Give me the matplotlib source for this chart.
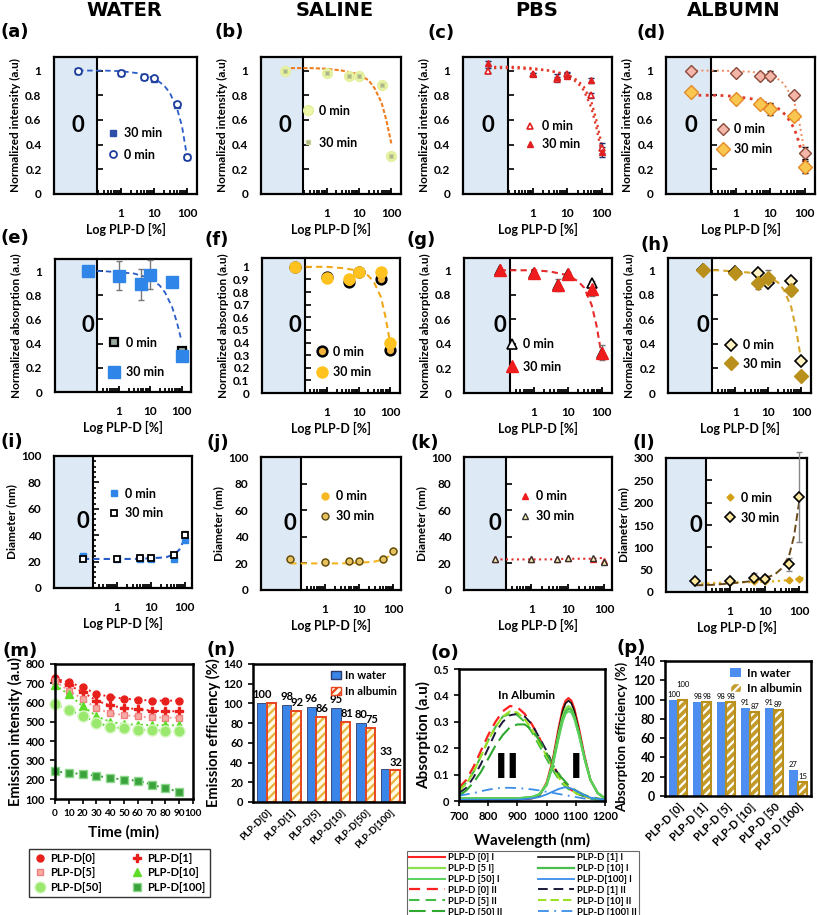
import numpy as np
import matplotlib
matplotlib.use('Agg')
import matplotlib.pyplot as plt
from matplotlib.lines import Line2D
from matplotlib.patches import Patch
from matplotlib.ticker import FixedLocator

plt.rcParams['font.family'] = ['Lato', 'DejaVu Sans']
plt.rcParams['font.weight'] = 'bold'
plt.rcParams['axes.labelweight'] = 'bold'
plt.rcParams['hatch.linewidth'] = 1.6

# ---------------- data ----------------
conc = [0, 1, 5, 10, 50, 100]
fit_c = [0, 0.3, 1, 3, 10, 20, 30, 50, 70, 100]
fit_c_ext = [0, 0.3, 1, 3, 10, 20, 30, 50, 100, 170]
minor_c = [0.2, 0.3, 0.4, 0.5, 0.6, 0.7, 0.8, 0.9, 2, 3, 4, 5, 6, 7, 8, 9,
           20, 30, 40, 50, 60, 70, 80, 90]

# (a) water, intensity
a_0 = [1.00, 0.98, 0.95, 0.94, 0.73, 0.30]
a_30 = [1.00, 0.98, 0.95, 0.93, 0.72, 0.30]
a_fit = [1.00, 1.00, 0.995, 0.98, 0.94, 0.88, 0.82, 0.69, 0.55, 0.30]
# (b) saline, intensity
b_0 = [1.00, 0.98, 0.96, 0.96, 0.88, 0.31]
b_30 = [1.00, 0.98, 0.96, 0.96, 0.88, 0.31]
b_fit = [1.02, 1.02, 1.015, 1.00, 0.97, 0.92, 0.86, 0.74, 0.60, 0.41]
# (c) PBS, intensity
c_0 = [1.00, 0.97, 0.93, 0.97, 0.80, 0.37]
c_30 = [1.06, 0.97, 0.95, 0.96, 0.92, 0.34]
c_err = [0.02, 0.01, 0.02, 0.02, 0.02, 0.04]
c_fit0 = [1.02, 1.02, 1.01, 1.00, 0.97, 0.92, 0.87, 0.75, 0.60, 0.40]
c_fit30 = [1.03, 1.03, 1.02, 1.00, 0.96, 0.90, 0.84, 0.70, 0.54, 0.33]
# (d) albumin, intensity
d_0 = [1.00, 0.98, 0.96, 0.96, 0.80, 0.33]
d_30 = [0.83, 0.77, 0.73, 0.69, 0.63, 0.22]
d_err0 = [0, 0.01, 0.02, 0.04, 0.01, 0.05]
d_err30 = [0, 0.02, 0.03, 0.05, 0.02, 0.05]
d_fit0 = [1.00, 1.00, 0.995, 0.99, 0.96, 0.92, 0.86, 0.74, 0.58, 0.33]
d_fit30 = [0.80, 0.80, 0.79, 0.77, 0.73, 0.68, 0.63, 0.53, 0.41, 0.24]
# (e) water, absorption
e_0 = [1.00, 0.96, 0.89, 0.97, 0.91, 0.34]
e_30 = [1.00, 0.96, 0.89, 0.97, 0.91, 0.30]
e_err = [0, 0.12, 0.13, 0.12, 0, 0]
e_fit = [1.00, 1.00, 0.99, 0.98, 0.94, 0.88, 0.82, 0.70, 0.58, 0.42]
# (f) saline, absorption
f_0 = [1.00, 0.92, 0.88, 0.96, 0.90, 0.34]
f_30 = [1.00, 0.91, 0.90, 0.96, 0.96, 0.40]
f_err = [0, 0.03, 0.03, 0.03, 0.02, 0.02]
f_fit = [1.00, 1.00, 1.00, 0.99, 0.97, 0.93, 0.88, 0.76, 0.60, 0.38]
# (g) PBS, absorption
g_0 = [1.00, 0.98, 0.88, 0.97, 0.90, 0.33]
g_30 = [1.00, 0.98, 0.88, 0.97, 0.85, 0.33]
g_err = [0, 0.01, 0.05, 0.02, 0.06, 0.06]
g_fit = [1.00, 1.00, 1.00, 0.99, 0.96, 0.91, 0.86, 0.72, 0.55, 0.30]
# (h) albumin, absorption
h_0 = [1.00, 0.99, 0.98, 0.90, 0.91, 0.26]
h_30 = [1.00, 0.98, 0.90, 0.94, 0.84, 0.14]
h_err = [0, 0.01, 0.05, 0.06, 0.04, 0.01]
h_fit = [1.00, 1.00, 0.99, 0.98, 0.95, 0.90, 0.84, 0.70, 0.52, 0.27]
# (i) water, diameter
i_0 = [24, 22, 22, 22, 22, 36]
i_30 = [22, 22, 23, 23, 25, 40]
i_err = [1, 1, 1, 1, 2, 3]
i_fit = [22, 22, 22, 22, 22.5, 23, 23.5, 25.5, 29, 37]
# (j) saline, diameter
j_0 = [23, 21, 22, 22, 23, 29]
j_30 = [23, 21, 22, 22, 23, 29]
j_fit = [20, 20, 20, 20, 20.5, 21, 21.5, 23, 25, 29]
# (k) PBS, diameter
k_0 = [23, 23, 23, 24, 23, 22]
k_30 = [23, 23, 23, 24, 24, 21]
k_fit = [23, 23, 23, 23, 23.5, 23.5, 23.5, 23.5, 24, 24]
# (l) albumin, diameter
l_0 = [24, 22, 24, 24, 26, 28]
l_30 = [24, 25, 32, 30, 62, 213]
l_err = [0, 5, 10, 8, 15, 100]
l_fit0 = [18, 20, 21, 22, 23, 24, 25, 27, 30, 34]
l_fit30 = [15, 16, 19, 23, 30, 40, 52, 80, 125, 205]

# (m) emission vs time
time_min = [0, 10, 20, 30, 40, 50, 60, 70, 80, 90]
m_series = {
    'PLP-D[0]': [725, 705, 680, 645, 630, 620, 615, 610, 610, 610],
    'PLP-D[1]': [718, 690, 655, 610, 585, 572, 566, 558, 555, 555],
    'PLP-D[5]': [710, 662, 620, 570, 545, 535, 528, 524, 522, 522],
    'PLP-D[10]': [692, 642, 582, 530, 500, 488, 485, 483, 482, 482],
    'PLP-D[50]': [590, 562, 532, 496, 475, 466, 460, 457, 455, 455],
    'PLP-D[100]': [243, 235, 230, 220, 210, 200, 195, 175, 155, 138],
}

# (n) emission efficiency
n_cats = ['PLP-D[0]', 'PLP-D[1]', 'PLP-D[5]', 'PLP-D[10]', 'PLP-D[50]', 'PLP-D[100]']
n_water = [100, 98, 96, 95, 80, 33]
n_album = [100, 92, 86, 81, 75, 32]

# (o) absorption spectra in albumin
wl_I = [700, 800, 900, 950, 975, 1000, 1020, 1040, 1055, 1065, 1075, 1085,
        1095, 1110, 1130, 1150, 1175, 1200]
o_I = {
    'PLP-D [0] I': [0.005, 0.005, 0.005, 0.01, 0.02, 0.07, 0.15, 0.27, 0.35, 0.38, 0.39, 0.38, 0.35, 0.28, 0.17, 0.08, 0.03, 0.01],
    'PLP-D [1] I': [0.005, 0.005, 0.005, 0.01, 0.02, 0.065, 0.145, 0.26, 0.34, 0.37, 0.38, 0.37, 0.34, 0.27, 0.165, 0.08, 0.03, 0.01],
    'PLP-D [5 I]': [0.01, 0.01, 0.01, 0.015, 0.025, 0.065, 0.14, 0.25, 0.32, 0.35, 0.36, 0.35, 0.32, 0.26, 0.16, 0.08, 0.03, 0.01],
    'PLP-D [10] I': [0.01, 0.01, 0.01, 0.015, 0.025, 0.06, 0.13, 0.24, 0.31, 0.34, 0.35, 0.345, 0.32, 0.26, 0.16, 0.08, 0.03, 0.01],
    'PLP-D [50] I': [0.01, 0.01, 0.01, 0.015, 0.025, 0.06, 0.13, 0.23, 0.30, 0.33, 0.34, 0.335, 0.31, 0.25, 0.16, 0.08, 0.03, 0.01],
    'PLP-D[100] I': [0.005, 0.005, 0.005, 0.01, 0.015, 0.025, 0.035, 0.045, 0.05, 0.052, 0.05, 0.047, 0.042, 0.033, 0.022, 0.013, 0.008, 0.005],
}
wl_II = [700, 725, 750, 775, 800, 825, 850, 875, 900, 925, 950, 975, 1000,
         1025, 1050, 1075, 1100, 1125, 1150, 1175, 1200]
o_II = {
    'PLP-D [0] II': [0.05, 0.08, 0.13, 0.19, 0.25, 0.30, 0.34, 0.36, 0.355, 0.33, 0.29, 0.24, 0.18, 0.13, 0.08, 0.05, 0.03, 0.02, 0.01, 0.005, 0.0],
    'PLP-D [1] II': [0.03, 0.05, 0.09, 0.14, 0.20, 0.26, 0.30, 0.325, 0.33, 0.32, 0.29, 0.24, 0.19, 0.13, 0.08, 0.05, 0.03, 0.02, 0.01, 0.005, 0.0],
    'PLP-D [5] II': [0.04, 0.07, 0.11, 0.17, 0.23, 0.28, 0.32, 0.33, 0.325, 0.30, 0.26, 0.21, 0.16, 0.11, 0.07, 0.045, 0.03, 0.02, 0.01, 0.005, 0.0],
    'PLP-D [10] II': [0.04, 0.065, 0.11, 0.17, 0.23, 0.28, 0.32, 0.34, 0.335, 0.31, 0.27, 0.22, 0.17, 0.12, 0.075, 0.05, 0.03, 0.02, 0.01, 0.005, 0.0],
    'PLP-D [50] II': [0.02, 0.04, 0.07, 0.11, 0.16, 0.21, 0.25, 0.28, 0.29, 0.29, 0.27, 0.23, 0.18, 0.13, 0.09, 0.06, 0.04, 0.025, 0.015, 0.01, 0.005],
    'PLP-D [100] II': [0.02, 0.025, 0.03, 0.037, 0.043, 0.047, 0.05, 0.05, 0.049, 0.047, 0.044, 0.04, 0.035, 0.03, 0.025, 0.02, 0.015, 0.01, 0.007, 0.005, 0.003],
}

# (p) absorption efficiency
p_cats = ['PLP-D [0]', 'PLP-D [1]', 'PLP-D [5]', 'PLP-D [10]', 'PLP-D [50', 'PLP-D [100]']
p_water = [100, 98, 98, 91, 91, 27]
p_album = [100, 98, 98, 87, 89, 15]

# ---------------- figure ----------------
W, H = 817, 915
fig = plt.figure(figsize=(W / 100, H / 100), dpi=100)


def box(l, t, r, b):
    return fig.add_axes([l / W, 1 - b / H, (r - l) / W, (b - t) / H])


def xpos(cs, zero):
    return [zero if c == 0 else np.log10(c) for c in cs]


def conc_panel(rect, lims, ylim, yticks, ylabel, yminor=None, fmt=None):
    left, div, right, zero = lims
    ax = box(*rect)
    ax.set_xlim(left, right)
    ax.set_ylim(*ylim)
    ax.axvspan(left, div, facecolor='#dde9f5', edgecolor='none', zorder=0)
    ax.text(zero, 0.5, '0', transform=ax.get_xaxis_transform(), ha='center',
            va='center', fontsize=16, fontweight='bold')
    sec = ax.secondary_yaxis((div - left) / (right - left))
    sec.set_yticks(yticks)
    if yminor is not None:
        sec.set_yticks(yminor, minor=True)
    sec.tick_params(which='both', direction='in', labelleft=False,
                    labelright=False, width=1.2, length=4)
    sec.tick_params(which='minor', length=2.5)
    for s in sec.spines.values():
        s.set_linewidth(1.5)
    ax.set_yticks(yticks)
    if fmt:
        ax.set_yticklabels([fmt(v) for v in yticks])
    ax.tick_params(axis='y', length=0, pad=9, labelsize=8.5)
    ax.set_xticks([0, 1, 2], ['1', '10', '100'])
    ax.xaxis.set_minor_locator(FixedLocator(np.log10(minor_c)))
    ax.tick_params(axis='x', which='both', direction='in', pad=10,
                   labelsize=8.5, width=1.3)
    ax.tick_params(axis='x', which='major', length=4)
    ax.tick_params(axis='x', which='minor', length=3)
    for s in ax.spines.values():
        s.set_linewidth(1.6)
    ax.set_ylabel(ylabel, fontsize=8.5, labelpad=3)
    ax.set_xlabel('Log PLP-D [%]', fontsize=9, labelpad=3)
    return ax


def fit(ax, zero, ys, color, ls, cs=fit_c, lw=1.3):
    ax.plot(xpos(cs, zero), ys, ls=ls, color=color, lw=lw, zorder=2)


def pts(ax, zero, ys, label, err=None, ecolor='#555555', **kw):
    x = xpos(conc, zero)
    if err is not None:
        ax.errorbar(x, ys, yerr=err, fmt='none', ecolor=ecolor, elinewidth=1,
                    capsize=2, zorder=3, clip_on=False)
    return ax.plot(x, ys, ls='none', label=label, zorder=4, clip_on=False, **kw)[0]


def leg(ax, x, y, spacing, handles=None):
    kw = dict(loc='center left', bbox_to_anchor=(x, y), frameon=False,
              fontsize=9, handlelength=1.0, handletextpad=0.4,
              labelspacing=spacing, borderpad=0, borderaxespad=0)
    if handles is not None:
        ax.legend(handles=handles, **kw)
    else:
        ax.legend(**kw)


r1 = (-2.03, -0.72, 2.3, -1.3)
r2 = (-2.05, -0.70, 2.3, -1.0)
r3 = (-1.85, -0.70, 2.22, -1.0)
int_lab = 'Normalized intensity (a.u)'
abs_lab = 'Normalized absorption (a.u)'
dia_lab = 'Diameter (nm)'
y1 = [0, 0.2, 0.4, 0.6, 0.8, 1.0]
fmt1 = lambda v: '0' if v == 0 else ('1' if v == 1 else f'{v:.1f}')
y100 = [0, 20, 40, 60, 80, 100]

# (a)
ax = conc_panel((54, 57, 197, 194), r1, (0, 1.11), y1, int_lab, fmt=fmt1)
fit(ax, r1[3], a_fit, '#2a5cc8', (0, (3, 2)))
h30 = pts(ax, r1[3], a_30, '30 min', marker='s', ms=4.5, mfc='#2e4fa8', mec='#2e4fa8')
h0 = pts(ax, r1[3], a_0, '0 min', marker='o', ms=5, mfc='white', mec='#1f3f9e', mew=1.3)
leg(ax, 0.37, 0.365, 0.75, [h30, h0])

# (b)
ax = conc_panel((261, 57, 401, 194), r1, (0, 1.11), y1, int_lab, fmt=fmt1)
fit(ax, r1[3], b_fit, '#ef7d22', (0, (2, 1)), lw=1.5)
pts(ax, r1[3], b_0, '0 min', marker='o', ms=7, mfc='#eef6a8', mec='#e3ee9a')
pts(ax, r1[3], b_30, '30 min', marker='s', ms=3.5, mfc='#a3ae8c', mec='#c7d48f')
leg(ax, 0.29, 0.49, 1.6)

# (c)
ax = conc_panel((463, 57, 612, 194), r1, (0, 1.11), y1, int_lab, fmt=fmt1)
fit(ax, r1[3], c_fit0, '#e23a2a', ':', lw=1.6)
fit(ax, r1[3], c_fit30, '#e23a2a', ':', lw=1.6)
pts(ax, r1[3], c_0, '0 min', err=c_err, ecolor='#1d2f6f', marker='^', ms=5,
    mfc='white', mec='#e02020', mew=1.2)
pts(ax, r1[3], c_30, '30 min', err=c_err, ecolor='#1d2f6f', marker='^', ms=5,
    mfc='#e02020', mec='#e02020')
leg(ax, 0.41, 0.43, 0.5)

# (d)
ax = conc_panel((666, 57, 815, 194), r1, (0, 1.11), y1, int_lab, fmt=fmt1)
fit(ax, r1[3], d_fit0, '#f08a5d', ':', lw=1.4)
fit(ax, r1[3], d_fit30, '#e03a2a', ':', lw=2.0)
pts(ax, r1[3], d_0, '0 min', err=d_err0, ecolor='black', marker='D', ms=6,
    mfc='#f4b6a8', mec='#8b4a3a')
pts(ax, r1[3], d_30, '30 min', err=d_err30, ecolor='black', marker='D', ms=7,
    mfc='#f9c74f', mec='#e58a2a')
leg(ax, 0.34, 0.40, 0.6)

# (e)
ax = conc_panel((55, 259, 191, 392), r2, (0, 1.1), y1, abs_lab, fmt=fmt1)
fit(ax, r2[3], e_fit, '#2a5cc8', (0, (3, 2)))
pts(ax, r2[3], e_0, '0 min', marker='s', ms=6, mfc='#9aa9a0', mec='black', mew=1.6)
pts(ax, r2[3], e_30, '30 min', err=e_err, ecolor='#777777', marker='s', ms=8,
    mfc='#2f86e8', mec='#2f86e8')
leg(ax, 0.39, 0.26, 1.4)

# (f)
yf = [0, 0.1, 0.2, 0.3, 0.4, 0.5, 0.6, 0.7, 0.8, 0.9, 1.0]
ax = conc_panel((262, 258, 400, 393), r2, (0, 1.07), yf, abs_lab, fmt=fmt1)
fit(ax, r2[3], f_fit, '#f0a818', (0, (3, 2)), lw=1.5)
pts(ax, r2[3], f_0, '0 min', marker='o', ms=7, mfc='#f0b23a', mec='black', mew=1.8)
pts(ax, r2[3], f_30, '30 min', err=f_err, ecolor='#777777', marker='o', ms=8,
    mfc='#ffc21f', mec='#ffc21f')
leg(ax, 0.39, 0.23, 0.7)

# (g)
ax = conc_panel((464, 258, 612, 393), r2, (0, 1.1), y1, abs_lab, fmt=fmt1)
fit(ax, r2[3], g_fit, '#e52b2b', (0, (3, 2)), lw=1.5)
pts(ax, r2[3], g_0, '0 min', marker='^', ms=7, mfc='white', mec='black', mew=1.2)
pts(ax, r2[3], g_30, '30 min', err=g_err, ecolor='#777777', marker='^', ms=8,
    mfc='#ee1c1c', mec='#ee1c1c')
leg(ax, 0.28, 0.28, 0.85)

# (h)
ax = conc_panel((668, 258, 811, 393), r2, (0, 1.1), y1, abs_lab, fmt=fmt1)
fit(ax, r2[3], h_fit, '#d4a52a', (0, (3, 2)), lw=1.5)
pts(ax, r2[3], h_0, '0 min', marker='D', ms=6, mfc='#fff3c4', mec='black', mew=1.2)
pts(ax, r2[3], h_30, '30 min', err=h_err, ecolor='#777777', marker='D', ms=7,
    mfc='#b8901b', mec='#b8901b')
leg(ax, 0.40, 0.285, 0.5)

# (i)
ax = conc_panel((54, 456, 192, 588), r3, (0, 100), y100, dia_lab,
                yminor=list(range(0, 101, 4)))
fit(ax, r3[3], i_fit, '#2a5cc8', (0, (3, 2)), lw=1.5)
pts(ax, r3[3], i_0, '0 min', marker='s', ms=5, mfc='#2f86e8', mec='#2f86e8')
pts(ax, r3[3], i_30, '30 min', err=i_err, ecolor='#777777', marker='s', ms=5,
    mfc='white', mec='black', mew=1.3)
leg(ax, 0.39, 0.64, 0.6)

# (j)
ax = conc_panel((261, 457, 401, 590), r3, (0, 100), y100, dia_lab)
fit(ax, r3[3], j_fit, '#f3b41f', (0, (3, 2)), lw=1.5)
pts(ax, r3[3], j_0, '0 min', marker='o', ms=5, mfc='#f6b921', mec='#f6b921')
pts(ax, r3[3], j_30, '30 min', marker='o', ms=5, mfc='#e8c25a', mec='#5a4a1a')
leg(ax, 0.41, 0.63, 0.6)

# (k)
ax = conc_panel((464, 457, 612, 590), r3, (0, 100), y100, dia_lab)
fit(ax, r3[3], k_fit, '#e52b2b', ':', lw=1.5)
pts(ax, r3[3], k_0, '0 min', marker='^', ms=5, mfc='#ee1c1c', mec='#ee1c1c')
pts(ax, r3[3], k_30, '30 min', marker='^', ms=5, mfc='#fff0b0', mec='#333333')
leg(ax, 0.37, 0.63, 0.6)

# (l)
ax = conc_panel((666, 458, 807, 592), r3, (0, 300), list(range(0, 301, 50)), dia_lab)
fit(ax, r3[3], l_fit0, '#e0b020', ':', cs=fit_c_ext, lw=1.6)
fit(ax, r3[3], l_fit30, '#6b4a1a', (0, (4, 2)), lw=1.4)
pts(ax, r3[3], l_0, '0 min', marker='D', ms=3.5, mfc='#d4a017', mec='#d4a017')
pts(ax, r3[3], l_30, '30 min', err=l_err, ecolor='#888888', marker='D', ms=5,
    mfc='#ffe9a0', mec='black', mew=1.2)
leg(ax, 0.41, 0.63, 0.65)

# (m)
ax = box(55, 664, 193, 799)
m_style = {
    'PLP-D[0]': dict(color='#e8201c', marker='o', mfc='#e8201c', mec='#e8201c', ms=5),
    'PLP-D[1]': dict(color='#e8201c', marker='P', mfc='#e8201c', mec='#e8201c', ms=6),
    'PLP-D[5]': dict(color='#f39a95', marker='s', mfc='#f7aaa4', mec='#f08080', ms=5),
    'PLP-D[10]': dict(color='#5fdc2a', marker='^', mfc='#5fdc2a', mec='#5fdc2a', ms=6),
    'PLP-D[50]': dict(color='#4ccf2f', marker='o', mfc='#9be86e', mec='#d8f7c4', ms=8),
    'PLP-D[100]': dict(color='#3a9a3a', marker='s', mfc='#3aa23a', mec='#8ed88e', ms=6),
}
m_handles = {}
for name, vals in m_series.items():
    st = m_style[name]
    ax.plot(time_min, vals, ls=':', lw=1.4, clip_on=False, **st)
    m_handles[name] = Line2D([], [], ls='none', **{k: v for k, v in st.items() if k != 'color'})
ax.set_xlim(0, 100)
ax.set_ylim(100, 800)
ax.set_xticks(range(0, 101, 10))
ax.set_yticks(range(100, 801, 100))
ax.tick_params(axis='y', labelsize=8, width=1.2)
ax.tick_params(axis='x', labelsize=7.2, width=1.2)
for s in ax.spines.values():
    s.set_linewidth(1.8)
ax.set_xlabel('Time (min)', fontsize=11, labelpad=5)
ax.set_ylabel('Emission intensity (a.u)', fontsize=10.5, labelpad=2)
order = ['PLP-D[0]', 'PLP-D[5]', 'PLP-D[50]', 'PLP-D[1]', 'PLP-D[10]', 'PLP-D[100]']
lg = fig.legend([m_handles[k] for k in order], order, ncol=2, loc='upper left',
                bbox_to_anchor=(23 / W, 1 - 843 / H), fontsize=8,
                frameon=True, fancybox=False, edgecolor='black',
                handlelength=1.2, handletextpad=0.3, columnspacing=2.6,
                labelspacing=0.3, borderpad=0.4)
lg.get_frame().set_linewidth(1.0)

# (n)
ax = box(253, 664, 404, 802)
xn = np.arange(len(n_cats))
bw = 0.38
ax.bar(xn - bw / 2, n_water, bw, color='#3a85e8', edgecolor='#2b3a6b', lw=0.6)
ax.bar(xn + bw / 2, n_album, bw, color='#fffbe6', edgecolor='#e9b43a', hatch='////', lw=0)
ax.bar(xn + bw / 2, n_album, bw, fill=False, edgecolor='#e8451f', lw=1.4)
for i in range(len(n_cats)):
    dy = 13 if i == len(n_cats) - 1 else 3
    ax.text(xn[i] - bw / 2, n_water[i] + dy, str(n_water[i]), ha='center',
            va='bottom', fontsize=8)
    if i > 0:
        ax.text(xn[i] + bw / 2 + 0.05, n_album[i] + 3, str(n_album[i]), ha='center',
                va='bottom', fontsize=8)
ax.set_xlim(-0.55, 5.55)
ax.set_ylim(0, 140)
ax.set_yticks(range(0, 141, 20))
ax.set_xticks(xn, n_cats, rotation=45, ha='right', rotation_mode='anchor', fontsize=7)
ax.tick_params(axis='x', length=0, pad=4)
ax.tick_params(axis='y', labelsize=8, width=1.2)
for s in ax.spines.values():
    s.set_linewidth(1.8)
ax.set_ylabel('Emission efficiency (%)', fontsize=10.5, labelpad=2)
ax.legend(handles=[Patch(facecolor='#3a85e8', edgecolor='#2b3a6b'),
                   Patch(facecolor='#fffbe6', edgecolor='#e8451f', hatch='////')],
          labels=['In water', 'In albumin'], loc='upper right',
          bbox_to_anchor=(1.02, 1.03), frameon=False, fontsize=8,
          handlelength=0.9, handletextpad=0.4, labelspacing=0.45)

# (o)
ax = box(459, 669, 605, 801)
o_style = {
    'PLP-D [0] I': dict(color='#ff2020', ls='-', lw=1.5),
    'PLP-D [1] I': dict(color='#111111', ls='-', lw=1.2),
    'PLP-D [5 I]': dict(color='#8be04e', ls='-', lw=1.6),
    'PLP-D [10] I': dict(color='#4cbe4c', ls='-', lw=1.6),
    'PLP-D [50] I': dict(color='#5ad15a', ls='-', lw=1.4),
    'PLP-D[100] I': dict(color='#3a8ee8', ls='-', lw=1.3),
    'PLP-D [0] II': dict(color='#ff2020', ls=(0, (5, 3)), lw=1.6),
    'PLP-D [1] II': dict(color='#1a1a3a', ls=(0, (5, 3)), lw=1.4),
    'PLP-D [5] II': dict(color='#44bb44', ls=(0, (5, 3)), lw=1.5),
    'PLP-D [10] II': dict(color='#9be022', ls=(0, (4, 2)), lw=1.5),
    'PLP-D [50] II': dict(color='#2fa82f', ls=(0, (8, 3)), lw=1.5),
    'PLP-D [100] II': dict(color='#3a8ee8', ls=(0, (6, 3, 1, 3)), lw=1.3),
}
o_handles = {}
for name, vals in o_II.items():
    o_handles[name] = ax.plot(wl_II, vals, **o_style[name])[0]
for name, vals in o_I.items():
    o_handles[name] = ax.plot(wl_I, vals, **o_style[name])[0]
ax.set_xlim(700, 1200)
ax.set_ylim(0, 0.5)
ax.set_xticks(range(700, 1201, 100))
ax.set_yticks([0, 0.1, 0.2, 0.3, 0.4, 0.5], ['0', '0.1', '0.2', '0.3', '0.4', '0.5'])
ax.tick_params(labelsize=8, width=1.2)
for s in ax.spines.values():
    s.set_linewidth(1.8)
ax.text(930, 0.40, 'In Albumin', ha='center', va='center', fontsize=8.5)
ax.text(866, 0.125, 'II', ha='center', va='center', fontsize=24,
        fontweight='heavy', family='DejaVu Sans')
ax.text(1100, 0.125, 'I', ha='center', va='center', fontsize=24,
        fontweight='heavy', family='DejaVu Sans')
ax.set_xlabel('Wavelength (nm)', fontsize=11, labelpad=8)
ax.set_ylabel('Absorption (a.u)', fontsize=11, labelpad=2)
o_order = ['PLP-D [0] I', 'PLP-D [5 I]', 'PLP-D [50] I', 'PLP-D [0] II',
           'PLP-D [5] II', 'PLP-D [50] II', 'PLP-D [1] I', 'PLP-D [10] I',
           'PLP-D[100] I', 'PLP-D [1] II', 'PLP-D [10] II', 'PLP-D [100] II']
lg = fig.legend([o_handles[k] for k in o_order], o_order, ncol=2,
                loc='upper left', bbox_to_anchor=(402 / W, 1 - 846 / H),
                fontsize=6.8, frameon=True, fancybox=False, edgecolor='#444444',
                handlelength=3.8, handletextpad=0.3, columnspacing=3.8,
                labelspacing=0.2, borderpad=0.25)
lg.get_frame().set_linewidth(0.8)

# (p)
ax = box(665, 661, 811, 796)
xp = np.arange(len(p_cats))
ax.bar(xp - bw / 2, p_water, bw, color='#4d8ef0', lw=0)
ax.bar(xp + bw / 2, p_album, bw, color='#c49b2b', edgecolor='white', hatch='////', lw=0)
ax.bar(xp + bw / 2, p_album, bw, fill=False, edgecolor='#b8901b', lw=1.5)
for i in range(len(p_cats)):
    ax.text(xp[i] - bw / 2, p_water[i] + 2, str(p_water[i]), ha='center',
            va='bottom', fontsize=5.5, fontweight='normal')
    ax.text(xp[i] + bw / 2, p_album[i] + (12 if i == 0 else 2), str(p_album[i]),
            ha='center', va='bottom', fontsize=5.5, fontweight='normal')
ax.set_xlim(-0.55, 5.55)
ax.set_ylim(0, 140)
ax.set_yticks(range(0, 141, 20))
ax.set_xticks(xp, p_cats, rotation=45, ha='right', rotation_mode='anchor', fontsize=8)
ax.tick_params(axis='x', length=0, pad=4)
ax.tick_params(axis='y', labelsize=9, width=1.2)
for s in ax.spines.values():
    s.set_linewidth(1.8)
ax.set_ylabel('Absorption efficiency (%)', fontsize=9.6)
ax.yaxis.set_label_coords(-0.25, 0.44)
ax.legend(handles=[Patch(facecolor='#4d8ef0'),
                   Patch(facecolor='#c49b2b', edgecolor='white', hatch='////')],
          labels=['In water', 'In albumin'], loc='upper right',
          bbox_to_anchor=(1.01, 1.03), frameon=False, fontsize=8.5,
          handlelength=0.9, handletextpad=0.5, labelspacing=0.35)

# titles and panel letters
for x, t in [(124, 'WATER'), (335, 'SALINE'), (537, 'PBS'), (734, 'ALBUMN')]:
    fig.text(x / W, 1 - 11 / H, t, ha='center', va='center', fontsize=14,
             fontweight='bold', family='DejaVu Sans')
letters = [('(a)', 1, 32), ('(b)', 215, 32), ('(c)', 428, 33), ('(d)', 636, 33),
           ('(e)', 1, 238), ('(f)', 205, 240), ('(g)', 407, 240), ('(h)', 641, 245),
           ('(i)', 1, 442), ('(j)', 206, 443), ('(k)', 410, 443), ('(l)', 633, 443),
           ('(m)', 3, 651), ('(n)', 207, 650), ('(o)', 430, 653), ('(p)', 616, 648)]
for t, x, y in letters:
    fig.text(x / W, 1 - y / H, t, ha='left', va='center', fontsize=13,
             fontweight='bold', family='DejaVu Sans')

fig.savefig('out.png', dpi=100)
